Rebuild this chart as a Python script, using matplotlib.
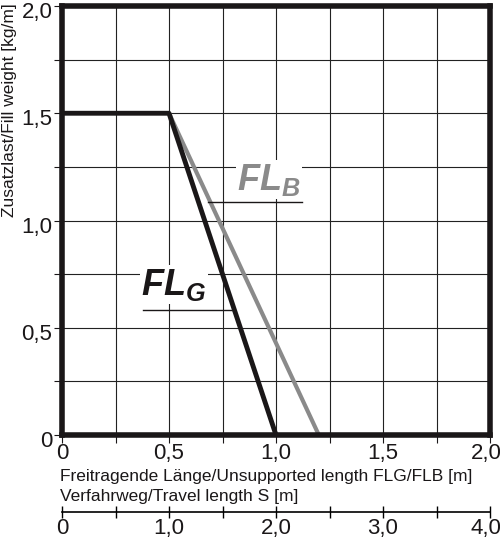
import numpy as np
import matplotlib.pyplot as plt
import matplotlib.transforms as mtransforms

plt.rcParams['font.family'] = ['Liberation Sans', 'DejaVu Sans']
plt.rcParams['mathtext.fontset'] = 'custom'
plt.rcParams['mathtext.it'] = 'Liberation Sans:italic:bold'
plt.rcParams['mathtext.rm'] = 'Liberation Sans'

# data
flg_x = [0.0, 0.5, 1.0]
flg_y = [1.5, 1.5, 0.0]
flb_x = [0.5, 1.2]
flb_y = [1.5, 0.0]
x_ticks = [0, 0.5, 1.0, 1.5, 2.0]
x_labels = ['0', '0,5', '1,0', '1,5', '2,0']
y_ticks = [0, 0.5, 1.0, 1.5, 2.0]
y_labels = ['0', '0,5', '1,0', '1,5', '2,0']
s_ticks = [0, 1, 2, 3, 4]
s_labels = ['0', '1,0', '2,0', '3,0', '4,0']

fig = plt.figure(figsize=(5.0, 5.42), dpi=100)
W, H = 500, 542
ax = fig.add_axes([62/W, 1-435/H, 428/W, 429/H])

ax.set_xlim(0, 2)
ax.set_ylim(0, 2)
grid = np.arange(0.25, 2.0, 0.25)
for g in grid:
    ax.axvline(g, color='#222222', lw=0.8, zorder=1)
    ax.axhline(g, color='#222222', lw=0.8, zorder=1)

ax.plot(flb_x, flb_y, color='#8a8a8a', lw=3, solid_capstyle='butt', zorder=3)
ax.plot(flg_x, flg_y, color='#1a1718', lw=3.5, solid_capstyle='butt', zorder=4)

for s in ax.spines.values():
    s.set_linewidth(4)
    s.set_color('#1a1718')
    s.set_zorder(5)

ax.set_xticks(np.arange(0, 2.01, 0.25), minor=True)
ax.set_yticks(np.arange(0, 2.01, 0.25), minor=True)
ax.set_xticks(x_ticks)
ax.set_xticklabels(x_labels)
ax.set_yticks(y_ticks)
ax.set_yticklabels(y_labels)
ax.tick_params(which='both', direction='out', length=6, width=0.8, color='#1a1718',
               labelsize=16, pad=1, labelcolor='#1a1718')
ax.tick_params(axis='x', pad=0)

# nudge tick labels a bit like in the original drawing
down = mtransforms.ScaledTranslation(0, -4/100, fig.dpi_scale_trans)
for lab in ax.get_yticklabels():
    lab.set_transform(lab.get_transform() + down)
left = mtransforms.ScaledTranslation(-4/100, 0, fig.dpi_scale_trans)
xl = ax.get_xticklabels()
xl[-1].set_transform(xl[-1].get_transform() + left)

fig.text(10/W, 1-110/H, 'Zusatzlast/Fill weight [kg/m]', fontsize=12.5,
         rotation=90, ha='center', va='center', color='#1a1718')

# labels of curves
ax.text(0.82, 1.19, r'$FL_B$', color='#8a8a8a', fontsize=26,
        ha='left', va='center', zorder=6,
        bbox=dict(facecolor='white', edgecolor='none', pad=1))
ax.plot([0.68, 1.12], [1.085, 1.085], color='#1a1718', lw=1, zorder=6)
ax.text(0.37, 0.70, r'$FL_G$', color='#1a1718', fontsize=26,
        ha='left', va='center', zorder=6,
        bbox=dict(facecolor='white', edgecolor='none', pad=1))
ax.plot([0.38, 0.80], [0.585, 0.585], color='#1a1718', lw=1, zorder=6)

fig.text(60/W, 1-477/H, 'Freitragende Länge/Unsupported length FLG/FLB [m]',
         fontsize=12.5, ha='left', va='center', color='#1a1718')
fig.text(60/W, 1-496/H, 'Verfahrweg/Travel length S [m]',
         fontsize=12.5, ha='left', va='center', color='#1a1718')

# second axis for travel length
ax2 = fig.add_axes([62/W, 1-512/H, 428/W, 0.001])
ax2.set_xlim(0, 4)
ax2.set_ylim(0, 1)
for k in ['top', 'left', 'right']:
    ax2.spines[k].set_visible(False)
ax2.spines['bottom'].set_linewidth(1.2)
ax2.set_yticks([])
ax2.set_xticks(np.arange(0, 4.01, 0.5), minor=True)
ax2.set_xticks(s_ticks)
ax2.set_xticklabels(s_labels)
ax2.tick_params(which='both', direction='inout', length=9, width=1, labelsize=16, pad=0,
                labelcolor='#1a1718')
sl = ax2.get_xticklabels()
sl[-1].set_transform(sl[-1].get_transform() + left)

plt.savefig('out.png', dpi=100)
